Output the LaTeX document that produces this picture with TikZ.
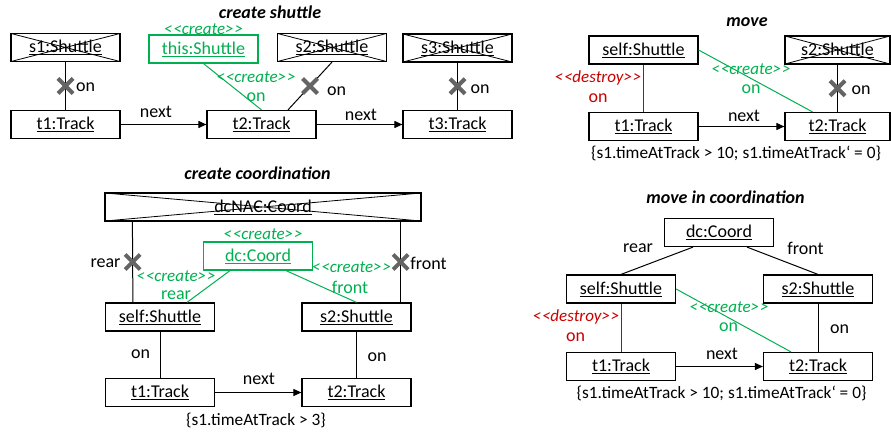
\documentclass[tikz,border=0pt]{standalone}
\usepackage{fontspec}
\setmainfont{Carlito}
\usetikzlibrary{arrows.meta,shapes.misc}
\definecolor{cgreen}{RGB}{0,176,80}
\definecolor{cred}{RGB}{200,0,0}
\definecolor{cgray}{RGB}{100,100,100}
\newcommand{\inst}[1]{\underline{#1}}
\newcommand{\crt}{{<}\kern1pt{<}create{>}\kern1pt{>}}
\newcommand{\dst}{{<}\kern1pt{<}destroy{>}\kern1pt{>}}
\tikzset{
  obj/.style={draw, line width=1.2pt, minimum width=109pt, minimum height=28pt,
    inner sep=0pt, font=\fontsize{18}{21}\selectfont},
  newobj/.style={obj, draw=cgreen, text=cgreen},
  nacobj/.style={obj, path picture={\draw[line width=0.8pt]
    (path picture bounding box.north west) -- (path picture bounding box.south east)
    (path picture bounding box.south west) -- (path picture bounding box.north east);}},
  link/.style={line width=1pt},
  newlink/.style={link, draw=cgreen},
  dellink/.style={link, draw=cred},
  nextlink/.style={link, -{Triangle[length=8pt,width=7pt]}},
  nacmark/.style={cross out, draw=cgray, line width=4pt, minimum size=11pt, inner sep=0pt},
  lbl/.style={inner sep=0pt, font=\fontsize{18}{21}\selectfont},
  cond/.style={inner sep=0pt, font=\fontsize{17.3}{20}\selectfont},
  stereo/.style={inner sep=0pt, font=\fontsize{17}{20}\selectfont\itshape, text=cgreen},
  dstereo/.style={stereo, text=cred},
  title/.style={inner sep=0pt, font=\fontsize{18}{21}\selectfont\bfseries\itshape}
}
\begin{document}
\begin{tikzpicture}[x=1pt,y=1pt]
\useasboundingbox (0,0) rectangle (891,-433);
% create shuttle
\node[title] (tCS) at (270,-12) {create shuttle};
\node[nacobj] (csS1) at (65.5,-47.5) {\inst{s1:Shuttle}};
\node[newobj] (csThis) at (203.5,-49) {\inst{this:Shuttle}};
\node[nacobj] (csS2) at (332,-47.5) {\inst{s2:Shuttle}};
\node[nacobj] (csS3) at (457.5,-48) {\inst{s3:Shuttle}};
\node[obj] (csT1) at (65.5,-124.5) {\inst{t1:Track}};
\node[obj] (csT2) at (261.5,-124.5) {\inst{t2:Track}};
\node[obj] (csT3) at (457.5,-124.5) {\inst{t3:Track}};
\node[stereo] (csC0) at (203.5,-29) {\crt};
\draw[link] (csS1) -- (csT1) node[nacmark, midway] (csX1) {};
\draw[newlink] (csThis.south) -- (csT2.north);
\draw[link] (csS2.south) -- ([xshift=26.5pt]csT2.north) node[nacmark, midway] (csX2) {};
\draw[link] (csS3) -- (csT3) node[nacmark, midway] (csX3) {};
\draw[nextlink] (csT1) -- (csT2);
\draw[nextlink] (csT2) -- (csT3);
\node[lbl] (csOn1) at (85.5,-87) {on};
\node[stereo] (csC1) at (256,-77) {\crt};
\node[lbl, text=cgreen] (csOn2) at (256,-97) {on};
\node[lbl] (csOn3) at (336.5,-91) {on};
\node[lbl] (csOn4) at (480,-89) {on};
\node[lbl] (csN1) at (156,-112) {next};
\node[lbl] (csN2) at (361,-115) {next};
% move
\node[title] (tMv) at (747,-22) {move};
\node[obj] (mvSelf) at (643.5,-50) {\inst{self:Shuttle}};
\node[nacobj, minimum width=105pt] (mvS2) at (837.5,-50) {\inst{s2:Shuttle}};
\node[obj] (mvT1) at (643.5,-126.5) {\inst{t1:Track}};
\node[obj, minimum width=105pt] (mvT2) at (837.5,-126.5) {\inst{t2:Track}};
\draw[dellink] (mvSelf) -- (mvT1);
\draw[newlink] (mvSelf.east) -- ([xshift=-25pt]mvT2.north);
\draw[link] (mvS2) -- (mvT2) node[nacmark, midway] (mvX1) {};
\draw[nextlink] (mvT1) -- (mvT2);
\node[dstereo] (mvD) at (598,-78) {\dst};
\node[lbl, text=cred] (mvOn1) at (598,-98) {on};
\node[stereo] (mvC) at (751,-69) {\crt};
\node[lbl, text=cgreen] (mvOn2) at (751,-89) {on};
\node[lbl] (mvOn3) at (861,-90) {on};
\node[lbl] (mvN) at (744,-116) {next};
\node[cond] (mvCond) at (736,-153) {\{s1.timeAtTrack > 10; s1.timeAtTrack‘ = 0\}};
% create coordination
\node[title] (tCC) at (257.5,-173) {create coordination};
\node[nacobj, minimum width=316pt] (ccNac) at (263,-207) {\inst{dcNAC:Coord}};
\node[newobj] (ccDc) at (258,-256) {\inst{dc:Coord}};
\node[obj] (ccSelf) at (160,-317) {\inst{self:Shuttle}};
\node[obj] (ccS2) at (356.5,-317) {\inst{s2:Shuttle}};
\node[obj] (ccT1) at (160,-392.5) {\inst{t1:Track}};
\node[obj] (ccT2) at (356.5,-392.5) {\inst{t2:Track}};
\node[stereo] (ccC0) at (263,-234) {\crt};
\draw[link] ([xshift=28pt]ccNac.south west) -- ([xshift=28pt]ccSelf.north west) node[nacmark, midway] (ccX1) {};
\draw[link] ([xshift=-21pt]ccNac.south east) -- ([xshift=-11pt]ccS2.north east) node[nacmark, midway] (ccX2) {};
\draw[newlink] ([xshift=-28pt]ccDc.south) -- ([xshift=27pt]ccSelf.north);
\draw[newlink] ([xshift=28pt]ccDc.south) -- (ccS2.north);
\draw[link] (ccSelf) -- (ccT1);
\draw[link] (ccS2) -- (ccT2);
\draw[nextlink] (ccT1) -- (ccT2);
\node[lbl] (ccRear) at (105.5,-263) {rear};
\node[lbl] (ccFront) at (428.5,-263) {front};
\node[stereo] (ccC1) at (176,-276) {\crt};
\node[lbl, text=cgreen] (ccRear2) at (176,-295) {rear};
\node[stereo] (ccC2) at (351.5,-267) {\crt};
\node[lbl, text=cgreen] (ccFront2) at (350,-287) {front};
\node[lbl] (ccOn1) at (140.5,-354) {on};
\node[lbl] (ccOn2) at (377,-357) {on};
\node[lbl] (ccN) at (259,-379) {next};
\node[cond] (ccCond) at (256,-420) {\{s1.timeAtTrack > 3\}};
% move in coordination
\node[title] (tMC) at (725.5,-197) {move in coordination};
\node[obj] (mcDc) at (719,-232.5) {\inst{dc:Coord}};
\node[obj] (mcSelf) at (621,-289) {\inst{self:Shuttle}};
\node[obj] (mcS2) at (818,-289) {\inst{s2:Shuttle}};
\node[obj] (mcT1) at (621,-366.5) {\inst{t1:Track}};
\node[obj] (mcT2) at (818,-366.5) {\inst{t2:Track}};
\draw[link] ([xshift=-26pt]mcDc.south) -- (mcSelf.north);
\draw[link] ([xshift=28pt]mcDc.south) -- (mcS2.north);
\draw[dellink] (mcSelf) -- (mcT1);
\draw[newlink] (mcSelf.east) -- ([xshift=-27pt]mcT2.north);
\draw[link] (mcS2) -- (mcT2);
\draw[nextlink] (mcT1) -- (mcT2);
\node[lbl] (mcRear) at (638,-248) {rear};
\node[lbl] (mcFront) at (805.5,-248) {front};
\node[dstereo] (mcD) at (576,-317) {\dst};
\node[lbl, text=cred] (mcOn1) at (575.5,-337) {on};
\node[stereo] (mcC) at (729,-307) {\crt};
\node[lbl, text=cgreen] (mcOn2) at (728.5,-327) {on};
\node[lbl] (mcOn3) at (839.5,-329) {on};
\node[lbl] (mcN) at (722,-354) {next};
\node[cond] (mcCond) at (721.5,-393) {\{s1.timeAtTrack > 10; s1.timeAtTrack‘ = 0\}};
\end{tikzpicture}
\end{document}
